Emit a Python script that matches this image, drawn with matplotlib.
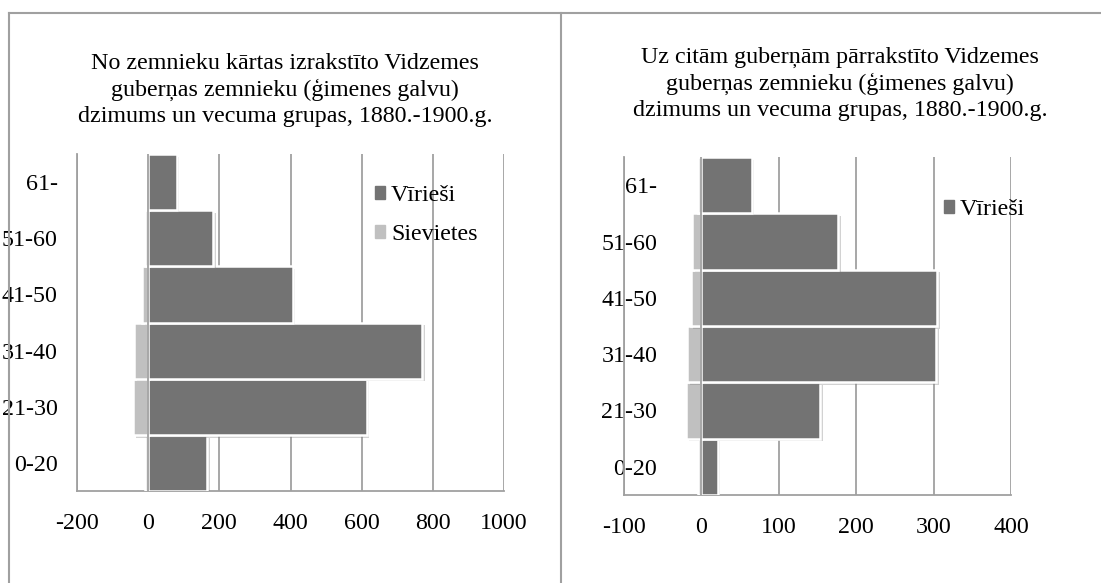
import matplotlib
matplotlib.use("Agg")
import matplotlib.pyplot as plt
import matplotlib.patheffects as pe
from matplotlib.lines import Line2D
from matplotlib.patches import Patch

plt.rcParams['font.family'] = ['Liberation Serif', 'DejaVu Serif']

# age groups and counts (women drawn as negative values)
ages = ['0-20', '21-30', '31-40', '41-50', '51-60', '61-']
left_men = [166, 614, 769, 406, 183, 80]
left_women = [-10, -42, -40, -17, -8, -3]
right_men = [21, 153, 303, 305, 177, 65]
right_women = [-5, -20, -18, -14, -12, -5]

left_ticks = [-200, 0, 200, 400, 600, 800, 1000]
right_ticks = [-100, 0, 100, 200, 300, 400]

left_title = ("No zemnieku kārtas izrakstīto Vidzemes\n"
              "guberņas zemnieku (ģimenes galvu)\n"
              "dzimums un vecuma grupas, 1880.-1900.g.")
right_title = ("Uz citām guberņām pārrakstīto Vidzemes\n"
               "guberņas zemnieku (ģimenes galvu)\n"
               "dzimums un vecuma grupas, 1880.-1900.g.")

DARK = '#737373'
LIGHT = '#c0c0c0'
GRID = '#a0a0a0'
FS = 17.3

W, H = 1101, 583
fig = plt.figure(figsize=(W / 100, H / 100), dpi=100)


def px_axes(x0, x1, ytop, ybot):
    return fig.add_axes([x0 / W, (H - ybot) / H, (x1 - x0) / W, (ybot - ytop) / H])


def pyramid(ax, men, women, ticks, label_pad):
    y = list(range(len(ages)))
    shadow = [pe.SimplePatchShadow(offset=(2, -2), shadow_rgbFace='#808080', alpha=0.35), pe.Normal()]
    ax.barh(y, women, height=1.0, color=LIGHT, edgecolor='white', linewidth=1.8,
            zorder=3, path_effects=shadow, label='Sievietes')
    ax.barh(y, men, height=1.0, color=DARK, edgecolor='white', linewidth=1.8,
            zorder=4, path_effects=shadow, label='Vīrieši')
    ax.axvline(0, color=GRID, lw=1.3, zorder=5)
    ax.set_xlim(ticks[0], ticks[-1])
    ax.set_ylim(-0.5, len(ages) - 0.5)
    ax.set_xticks(ticks)
    ax.set_xticklabels([str(t) for t in ticks])
    ax.set_yticks(y)
    ax.set_yticklabels(ages)
    ax.grid(axis='x', color=GRID, lw=1.3, zorder=0)
    ax.set_axisbelow(True)
    for s in ['top', 'right']:
        ax.spines[s].set_visible(False)
    for s in ['left', 'bottom']:
        ax.spines[s].set_color(GRID)
        ax.spines[s].set_linewidth(1.3)
    ax.tick_params(axis='x', length=0, pad=16, labelsize=FS)
    ax.tick_params(axis='y', length=0, pad=label_pad, labelsize=FS)


ax1 = px_axes(77, 504, 154, 491)
pyramid(ax1, left_men, left_women, left_ticks, 14)
ax1.legend(handles=[Patch(color=DARK, label='Vīrieši'), Patch(color=LIGHT, label='Sievietes')],
           loc='upper left', bbox_to_anchor=(375 / W, 1 - 185 / H), bbox_transform=fig.transFigure,
           frameon=False, fontsize=FS, handlelength=0.42, handleheight=0.42,
           handletextpad=0.25, labelspacing=0.75, borderpad=0, borderaxespad=0)

ax2 = px_axes(624, 1011, 157, 495)
pyramid(ax2, right_men, right_women, right_ticks, -24)
ax2.legend(handles=[Patch(color=DARK, label='Vīrieši')],
           loc='upper left', bbox_to_anchor=(944 / W, 1 - 199 / H), bbox_transform=fig.transFigure,
           frameon=False, fontsize=FS, handlelength=0.42, handleheight=0.42,
           handletextpad=0.25, borderpad=0, borderaxespad=0)

fig.text(285 / W, 1 - 90 / H, left_title, ha='center', va='center', fontsize=FS, linespacing=1.3)
fig.text(840 / W, 1 - 84 / H, right_title, ha='center', va='center', fontsize=FS, linespacing=1.3)

# outer frame lines around the two panels
for xs, ys in [([9, 9], [13, H]), ([9, W], [13, 13]), ([561, 561], [13, H])]:
    fig.add_artist(Line2D([x / W for x in xs], [1 - v / H for v in ys],
                          transform=fig.transFigure, color=GRID, lw=1.5))

fig.savefig('out.png', dpi=100)
